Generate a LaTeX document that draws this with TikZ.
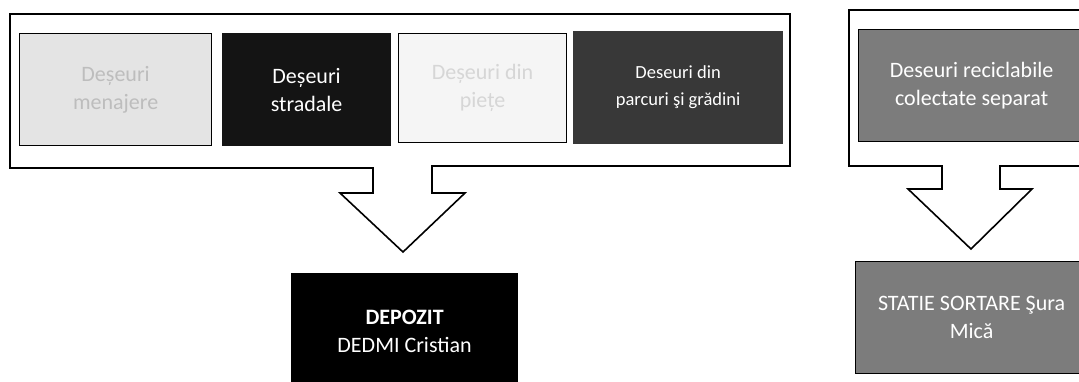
\documentclass[tikz,border=0pt]{standalone}
\usepackage{fontspec}
\setmainfont{Carlito}
\definecolor{lightbox}{HTML}{E4E4E4}
\definecolor{lighttext}{HTML}{BDBDBD}
\definecolor{paleBox}{HTML}{F5F5F5}
\definecolor{paleText}{HTML}{D6D6D6}
\definecolor{darkbox}{HTML}{141414}
\definecolor{greybox}{HTML}{383838}
\definecolor{midbox}{HTML}{7C7C7C}
\tikzset{
  frame/.style={draw=black, line width=1.6pt, fill=white, line join=miter},
  wbox/.style={draw=black, line width=1.2pt, anchor=north west, inner sep=0pt, align=center},
  bigtxt/.style={font=\fontsize{22}{28}\selectfont},
  smalltxt/.style={font=\fontsize{18.5}{27}\selectfont},
}
\begin{document}
\begin{tikzpicture}[x=1pt,y=-1pt]
\useasboundingbox (0,0) rectangle (1079,381);
\clip (0,0) rectangle (1079,381);
% left container with arrow
\draw[frame] (10,14) -- (790,14) -- (790,166) -- (432,166) -- (432,193) -- (465,193)
  -- (403,252) coordinate (tipL) -- (340,193) -- (373,193) -- (373,168) -- (10,168) -- cycle;
\node[wbox, fill=lightbox, text=lighttext, bigtxt, minimum width=192pt, minimum height=112pt] (b1) at (19,33) {Deșeuri\\menajere};
\node[wbox, fill=darkbox, draw=darkbox, text=white, bigtxt, minimum width=168pt, minimum height=112pt] (b2) at (222,33) {Deșeuri\\stradale};
\node[wbox, fill=paleBox, text=paleText, bigtxt, minimum width=168pt, minimum height=109pt] (b3) at (398,33) {Deșeuri din\\piețe};
\node[wbox, fill=greybox, draw=greybox, text=white, smalltxt, minimum width=209pt, minimum height=112pt] (b4) at (573,31) {Deseuri din\\parcuri şi grădini};
% depozit
\node[wbox, fill=black, text=white, bigtxt, minimum width=226pt, minimum height=115pt] (dep) at (291,273) {\textbf{DEPOZIT}\\DEDMI Cristian};
% right container with arrow
\draw[frame] (849,10) -- (1095,10) -- (1095,166) -- (1000,166) -- (1000,189) -- (1032,189)
  -- (971,249) coordinate (tipR) -- (908,189) -- (942,189) -- (942,166) -- (849,166) -- cycle;
\node[wbox, fill=midbox, text=white, bigtxt, minimum width=226pt, minimum height=112pt] (rec) at (858,29) {Deseuri reciclabile\\colectate separat};
\node[wbox, fill=midbox, text=white, bigtxt, minimum width=232pt, minimum height=112pt] (st) at (855,261) {STATIE SORTARE Şura\\Mică};
\end{tikzpicture}
\end{document}
